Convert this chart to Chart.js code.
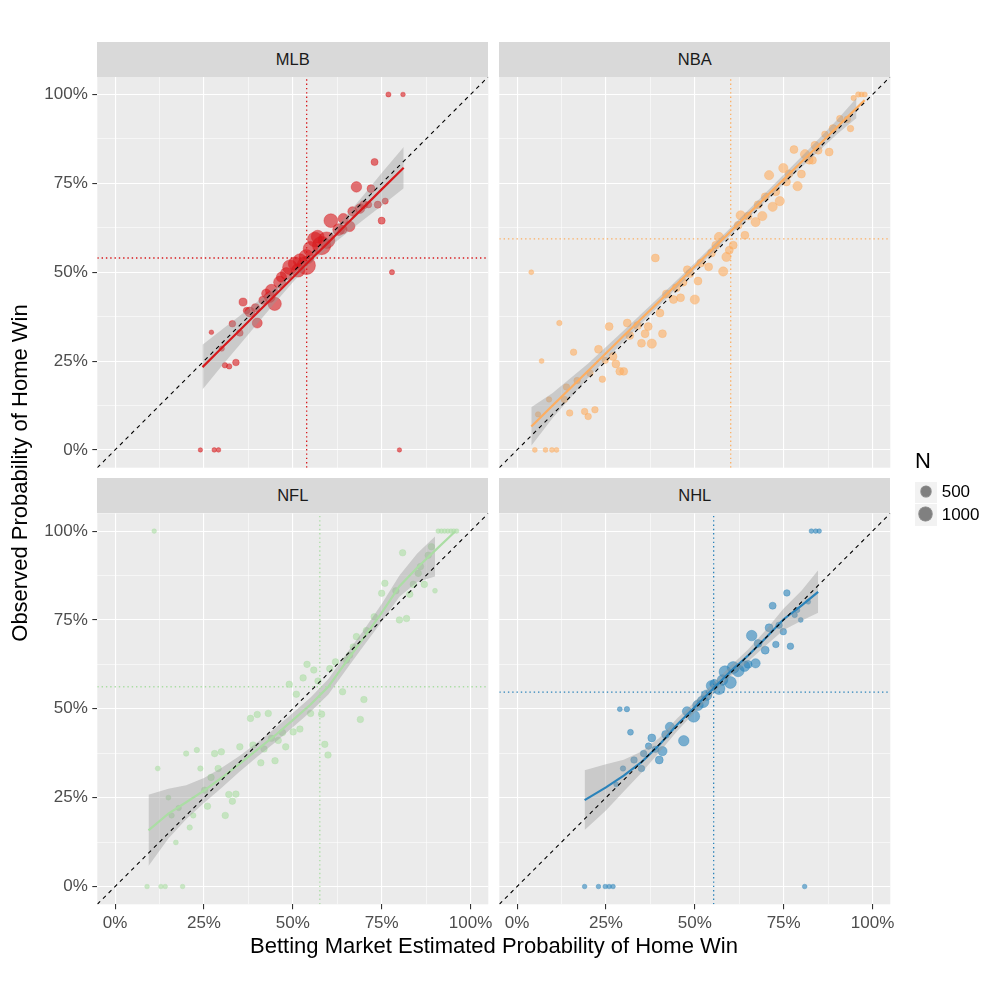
<!DOCTYPE html>
<html>
<head>
<meta charset="utf-8">
<script src="https://cdn.jsdelivr.net/npm/chart.js@4.4.0/dist/chart.umd.min.js"></script>
<style>
  body { margin: 0; background: #fff; font-family: "Liberation Sans", Arial, sans-serif; }
  #wrap { position: relative; width: 1000px; height: 1000px; }
  canvas { position: absolute; left: 0; top: 0; }
  .strip { position: absolute; background: #D9D9D9; color: #1A1A1A; font-size: 16.5px; text-align: center; height: 35px; line-height: 35px; }
  .txt { position: absolute; color: #000; white-space: nowrap; }
  .key { position: absolute; background: #F2F2F2; }
  .dot { position: absolute; border-radius: 50%; background: rgba(51,51,51,0.6); box-shadow: 0 0 0 0.6px rgba(51,51,51,0.6); }
</style>
</head>
<body>
<div id="wrap">
  <canvas id="cMLB" width="1000" height="1000"></canvas>
  <canvas id="cNBA" width="1000" height="1000"></canvas>
  <canvas id="cNFL" width="1000" height="1000"></canvas>
  <canvas id="cNHL" width="1000" height="1000"></canvas>
</div>
<script>
// tick values / labels (shared by all panels)
const tickVals = [0, 0.25, 0.5, 0.75, 1];
const tickLabels = ['0%', '25%', '50%', '75%', '100%'];
const minorVals = [0.125, 0.375, 0.625, 0.875];
const axisMin = -0.05, axisMax = 1.05;

// MLB
const mlbX = [0.769,0.81,0.73,0.679,0.72,0.76,0.739,0.713,0.689,0.668,0.75,0.607,0.642,0.66,0.629,0.581,0.595,0.562,0.55,0.538,0.52,0.538,0.492,0.506,0.515,0.482,0.463,0.468,0.44,0.435,0.449,0.416,0.36,0.379,0.37,0.40,0.33,0.351,0.271,0.30,0.34,0.309,0.321,0.779,0.24,0.279,0.291,0.80,0.395,0.425,0.57,0.64,0.70];
const mlbY = [1,1,0.81,0.74,0.735,0.70,0.69,0.69,0.679,0.671,0.645,0.645,0.651,0.629,0.62,0.575,0.59,0.592,0.566,0.543,0.533,0.519,0.514,0.524,0.505,0.496,0.472,0.486,0.449,0.43,0.411,0.421,0.416,0.388,0.392,0.357,0.355,0.329,0.331,0.285,0.246,0.238,0.235,0.50,0,0,0,0,0.40,0.44,0.60,0.62,0.69];
const mlbN = [20,8,120,500,190,60,120,80,380,350,120,1100,450,500,700,2300,1800,1300,1300,1300,1000,2300,1300,1000,1000,750,750,450,750,550,1000,200,200,420,90,420,90,90,8,30,90,30,30,20,5,8,8,5,200,300,900,300,200];
const mlbFitX = [0.246,0.30,0.35,0.40,0.45,0.50,0.55,0.60,0.65,0.70,0.75,0.812];
const mlbFit  = [0.233,0.287,0.336,0.386,0.435,0.485,0.535,0.584,0.634,0.683,0.733,0.794];
const mlbBandX = [0.246,0.30,0.35,0.40,0.45,0.50,0.55,0.60,0.65,0.70,0.75,0.812];
const mlbLo = [0.170,0.236,0.295,0.355,0.414,0.472,0.525,0.568,0.609,0.648,0.687,0.736];
const mlbHi = [0.296,0.338,0.377,0.417,0.456,0.498,0.545,0.600,0.659,0.718,0.779,0.852];
const mlbMean = [0.539, 0.540];

// NBA
const nbaX = [0.947,0.96,0.969,0.978,0.938,0.929,0.908,0.889,0.866,0.878,0.838,0.847,0.779,0.81,0.822,0.831,0.749,0.765,0.80,0.709,0.789,0.758,0.728,0.698,0.739,0.719,0.678,0.69,0.671,0.629,0.65,0.622,0.641,0.568,0.608,0.597,0.559,0.589,0.547,0.517,0.539,0.58,0.389,0.479,0.486,0.509,0.467,0.448,0.42,0.46,0.44,0.50,0.402,0.31,0.339,0.259,0.369,0.36,0.317,0.409,0.35,0.379,0.229,0.159,0.27,0.278,0.289,0.30,0.248,0.24,0.205,0.169,0.139,0.09,0.133,0.148,0.19,0.20,0.219,0.059,0.04,0.119,0.069,0.05,0.08,0.098,0.111];
const nbaY = [0.99,1,1,1,0.904,0.93,0.932,0.904,0.888,0.838,0.857,0.843,0.845,0.832,0.815,0.815,0.793,0.777,0.776,0.773,0.742,0.754,0.726,0.712,0.70,0.684,0.69,0.658,0.641,0.66,0.658,0.632,0.604,0.599,0.576,0.562,0.576,0.543,0.554,0.526,0.515,0.502,0.54,0.507,0.496,0.475,0.472,0.456,0.439,0.428,0.423,0.423,0.385,0.357,0.35,0.347,0.347,0.327,0.322,0.327,0.30,0.299,0.283,0.275,0.263,0.242,0.221,0.221,0.252,0.199,0.216,0.195,0.177,0.142,0.142,0.104,0.108,0.094,0.113,0.10,0.50,0.357,0.25,0,0,0,0];
const nbaN = [30,30,20,20,85,85,85,190,85,190,190,190,190,330,190,190,330,190,190,330,330,190,190,190,330,330,190,330,330,330,190,190,190,330,190,190,190,330,190,190,190,330,190,190,190,190,190,190,190,190,190,330,190,190,190,190,190,190,190,190,190,330,190,85,190,190,190,190,85,85,85,85,85,30,85,85,85,85,85,30,15,30,15,15,15,15,15];
const nbaFitX = [0.04,0.1,0.2,0.3,0.4,0.5,0.6,0.7,0.8,0.9,0.978];
const nbaFit  = [0.066,0.125,0.223,0.321,0.418,0.516,0.614,0.712,0.81,0.908,0.984];
const nbaBandX = [0.04,0.1,0.2,0.3,0.4,0.5,0.6,0.7,0.8,0.9,0.955];
const nbaLo = [0.012,0.090,0.203,0.306,0.406,0.506,0.604,0.700,0.795,0.888,0.934];
const nbaHi = [0.120,0.160,0.243,0.336,0.430,0.526,0.624,0.724,0.825,0.928,0.990];
const nbaMean = [0.601, 0.594];

// NFL
const nflX = [0.11,0.909,0.918,0.927,0.936,0.945,0.953,0.961,0.89,0.809,0.881,0.859,0.853,0.759,0.75,0.79,0.839,0.87,0.90,0.829,0.729,0.80,0.82,0.707,0.679,0.67,0.66,0.651,0.62,0.604,0.54,0.559,0.529,0.571,0.49,0.64,0.70,0.51,0.55,0.581,0.381,0.40,0.431,0.69,0.52,0.501,0.471,0.44,0.459,0.59,0.48,0.388,0.351,0.599,0.419,0.299,0.28,0.23,0.20,0.45,0.41,0.24,0.29,0.12,0.27,0.252,0.32,0.34,0.33,0.15,0.179,0.26,0.159,0.22,0.31,0.21,0.171,0.09,0.129,0.141,0.19];
const nflY = [1,1,1,1,1,1,1,1,0.956,0.939,0.932,0.90,0.881,0.853,0.825,0.832,0.85,0.85,0.832,0.822,0.759,0.75,0.754,0.72,0.703,0.674,0.651,0.637,0.632,0.613,0.625,0.609,0.587,0.578,0.569,0.548,0.526,0.541,0.487,0.485,0.473,0.484,0.487,0.47,0.443,0.435,0.433,0.417,0.411,0.40,0.393,0.398,0.393,0.37,0.387,0.379,0.374,0.384,0.374,0.354,0.348,0.332,0.332,0.332,0.307,0.271,0.259,0.26,0.24,0.25,0.221,0.226,0.20,0.20,0.20,0.166,0.124,0,0,0,0];
const nflN = [8,8,8,8,8,8,8,8,85,85,85,85,85,85,85,85,85,85,15,85,85,85,85,85,85,85,85,85,85,85,85,85,85,85,85,85,85,85,85,85,85,85,85,85,85,85,85,85,85,85,85,85,85,85,85,85,85,30,30,85,85,30,85,15,85,85,85,85,85,15,30,85,30,30,85,30,15,8,8,8,8];
const nflFitX = [0.094,0.15,0.2,0.25,0.3,0.35,0.4,0.45,0.5,0.55,0.6,0.65,0.7,0.75,0.8,0.85,0.9,0.956];
const nflFit  = [0.158,0.205,0.237,0.270,0.306,0.345,0.385,0.425,0.468,0.512,0.562,0.632,0.700,0.770,0.845,0.897,0.945,0.998];
const nflBandX = [0.094,0.15,0.2,0.25,0.3,0.35,0.4,0.45,0.5,0.55,0.6,0.65,0.7,0.75,0.8,0.85,0.9];
const nflLo = [0.058,0.135,0.189,0.235,0.278,0.323,0.365,0.405,0.448,0.492,0.540,0.610,0.678,0.745,0.815,0.857,0.872];
const nflHi = [0.258,0.275,0.285,0.305,0.334,0.367,0.405,0.445,0.488,0.532,0.584,0.654,0.722,0.795,0.875,0.937,0.985];
const nflMean = [0.576, 0.562];

// NHL
const nhlX = [0.828,0.84,0.85,0.759,0.719,0.819,0.788,0.781,0.798,0.709,0.737,0.749,0.66,0.678,0.728,0.769,0.698,0.671,0.65,0.608,0.622,0.585,0.60,0.578,0.547,0.568,0.533,0.523,0.509,0.497,0.478,0.43,0.418,0.469,0.379,0.409,0.37,0.389,0.40,0.356,0.329,0.35,0.298,0.279,0.289,0.309,0.319,0.19,0.229,0.248,0.259,0.27,0.809,0.64,0.555];
const nhlY = [1,1,1,0.826,0.79,0.801,0.778,0.764,0.75,0.728,0.735,0.717,0.706,0.684,0.681,0.676,0.665,0.628,0.625,0.616,0.607,0.604,0.574,0.581,0.565,0.557,0.538,0.52,0.51,0.479,0.493,0.449,0.428,0.41,0.418,0.381,0.395,0.386,0.356,0.374,0.356,0.332,0.332,0.287,0.499,0.499,0.434,0,0,0,0,0,0,0.62,0.57];
const nhlN = [8,8,8,85,120,15,30,30,15,190,85,85,500,190,85,85,190,330,190,730,730,730,730,500,500,730,500,730,500,730,330,330,190,500,190,330,85,85,190,85,85,85,30,15,15,30,50,8,8,8,8,8,8,500,300];
const nhlFitX = [0.19,0.25,0.30,0.35,0.40,0.45,0.50,0.55,0.60,0.65,0.70,0.75,0.80,0.847];
const nhlFit  = [0.243,0.279,0.312,0.350,0.398,0.455,0.505,0.555,0.605,0.650,0.700,0.752,0.790,0.829];
const nhlBandX = [0.19,0.25,0.30,0.35,0.40,0.45,0.50,0.55,0.60,0.65,0.70,0.75,0.80,0.847];
const nhlLo = [0.159,0.214,0.267,0.320,0.378,0.437,0.490,0.540,0.590,0.633,0.678,0.722,0.748,0.770];
const nhlHi = [0.327,0.344,0.357,0.380,0.418,0.473,0.520,0.570,0.620,0.667,0.722,0.782,0.832,0.890];
const nhlMean = [0.553, 0.547];

const legendN = [500, 1000];

// point radius from N (ggplot-like size scale)
function radiusFor(n) { return 1.9 + 0.151 * Math.sqrt(n); }

const pts = (xs, ys) => xs.map((x, i) => ({ x: x, y: ys[i] }));

const bgPlugin = {
  id: 'panelBg',
  beforeDraw(chart) {
    const a = chart.chartArea, c = chart.ctx;
    c.save();
    c.fillStyle = '#EBEBEB';
    c.fillRect(a.left, a.top, a.right - a.left, a.bottom - a.top);
    c.restore();
  }
};

function makeScale(show, isX, size) {
  return {
    type: 'linear',
    min: axisMin,
    max: axisMax,
    afterBuildTicks: s => { s.ticks = tickVals.concat(minorVals).sort((a, b) => a - b).map(v => ({ value: v })); },
    afterFit: s => { if (isX) s.height = show ? size : 0; else s.width = show ? size : 0; },
    border: { display: false },
    grid: {
      color: '#FFFFFF',
      lineWidth: c => (c.tick && tickVals.includes(c.tick.value)) ? 1.1 : 0.55,
      drawTicks: show,
      tickLength: 5,
      tickWidth: 1.1,
      tickColor: c => (c.tick && tickVals.includes(c.tick.value)) ? '#333333' : 'rgba(0,0,0,0)'
    },
    ticks: {
      display: show,
      autoSkip: false,
      maxRotation: 0,
      padding: isX ? 4 : 4.5,
      color: '#4D4D4D',
      font: { family: '"Liberation Sans", Arial, sans-serif', size: 17 },
      callback: v => { const i = tickVals.indexOf(v); return i >= 0 ? tickLabels[i] : ''; }
    }
  };
}

function makePanel(id, label, rgb, xs, ys, ns, fitX, fit, bandX, lo, hi, mean, area, showX, showY) {
  const col = 'rgb(' + rgb + ')';
  const ptCol = 'rgba(' + rgb + ',0.6)';
  new Chart(document.getElementById(id), {
    type: 'scatter',
    data: {
      datasets: [
        { data: [{ x: mean[0], y: axisMin }, { x: mean[0], y: axisMax }], showLine: true, borderColor: col, borderWidth: 1.3, borderDash: [1.4, 2.9], pointRadius: 0, order: 0 },
        { data: [{ x: axisMin, y: mean[1] }, { x: axisMax, y: mean[1] }], showLine: true, borderColor: col, borderWidth: 1.3, borderDash: [1.4, 2.9], pointRadius: 0, order: 0 },
        { data: [{ x: axisMin, y: axisMin }, { x: axisMax, y: axisMax }], showLine: true, borderColor: '#000000', borderWidth: 1.1, borderDash: [4, 4], pointRadius: 0, order: 1 },
        { data: pts(fitX, fit), showLine: true, borderColor: col, borderWidth: 2.2, pointRadius: 0, order: 2 },
        { data: pts(bandX, lo), showLine: true, borderColor: 'rgba(0,0,0,0)', borderWidth: 0, pointRadius: 0, fill: false, order: 4 },
        { data: pts(bandX, hi), showLine: true, borderColor: 'rgba(0,0,0,0)', borderWidth: 0, pointRadius: 0, fill: '-1', backgroundColor: 'rgba(153,153,153,0.4)', order: 3 },
        { data: pts(xs, ys), pointRadius: ns.map(radiusFor), pointBackgroundColor: ptCol, pointBorderColor: ptCol, pointBorderWidth: 0.6, order: 5 }
      ]
    },
    options: {
      responsive: false,
      animation: false,
      events: [],
      layout: {
        autoPadding: false,
        padding: { left: showY ? 0 : area.left, right: 1000 - area.right, top: area.top, bottom: showX ? 0 : 1000 - area.bottom }
      },
      plugins: { legend: { display: false }, tooltip: { enabled: false } },
      scales: {
        x: makeScale(showX, true, 1000 - area.bottom),
        y: makeScale(showY, false, area.left)
      }
    },
    plugins: [bgPlugin]
  });
  // facet strip
  const s = document.createElement('div');
  s.className = 'strip';
  s.style.left = area.left + 'px';
  s.style.top = (area.top - 35) + 'px';
  s.style.width = (area.right - area.left) + 'px';
  s.textContent = label;
  document.getElementById('wrap').appendChild(s);
}

const topArea = { top: 76.7, bottom: 467.7 }, botArea = { top: 513.3, bottom: 904.3 };
const leftCol = { left: 97.3, right: 488.3 }, rightCol = { left: 499.3, right: 890.3 };

makePanel('cMLB', 'MLB', '215,25,28', mlbX, mlbY, mlbN, mlbFitX, mlbFit, mlbBandX, mlbLo, mlbHi, mlbMean, Object.assign({}, topArea, leftCol), false, true);
makePanel('cNBA', 'NBA', '253,174,97', nbaX, nbaY, nbaN, nbaFitX, nbaFit, nbaBandX, nbaLo, nbaHi, nbaMean, Object.assign({}, topArea, rightCol), false, false);
makePanel('cNFL', 'NFL', '171,221,164', nflX, nflY, nflN, nflFitX, nflFit, nflBandX, nflLo, nflHi, nflMean, Object.assign({}, botArea, leftCol), true, true);
makePanel('cNHL', 'NHL', '43,131,186', nhlX, nhlY, nhlN, nhlFitX, nhlFit, nhlBandX, nhlLo, nhlHi, nhlMean, Object.assign({}, botArea, rightCol), true, false);

// axis titles and legend
const wrap = document.getElementById('wrap');
function addText(txt, css) {
  const d = document.createElement('div');
  d.className = 'txt';
  d.textContent = txt;
  Object.assign(d.style, css);
  wrap.appendChild(d);
  return d;
}
addText('Betting Market Estimated Probability of Home Win', { left: '0px', width: '988px', top: '933px', lineHeight: '26px', fontSize: '22px', textAlign: 'center' });
addText('Observed Probability of Home Win', { left: '-280px', width: '600px', top: '460px', lineHeight: '26px', fontSize: '22px', textAlign: 'center', transform: 'rotate(-90deg)' });
addText('N', { left: '915px', top: '448px', lineHeight: '26px', fontSize: '22px' });
legendN.forEach((n, i) => {
  const top = 481.7 + i * 22.3, cy = top + 9.5;
  const k = document.createElement('div');
  k.className = 'key';
  Object.assign(k.style, { left: '915px', top: top + 'px', width: '21.7px', height: '21.5px' });
  wrap.appendChild(k);
  const r = radiusFor(n);
  const d = document.createElement('div');
  d.className = 'dot';
  Object.assign(d.style, { left: (925.8 - r) + 'px', top: (cy + 0.5 - r) + 'px', width: 2 * r + 'px', height: 2 * r + 'px' });
  wrap.appendChild(d);
  addText(String(n), { left: '941.7px', top: (cy - 10) + 'px', lineHeight: '21px', fontSize: '17px' });
});
</script>
</body>
</html>
